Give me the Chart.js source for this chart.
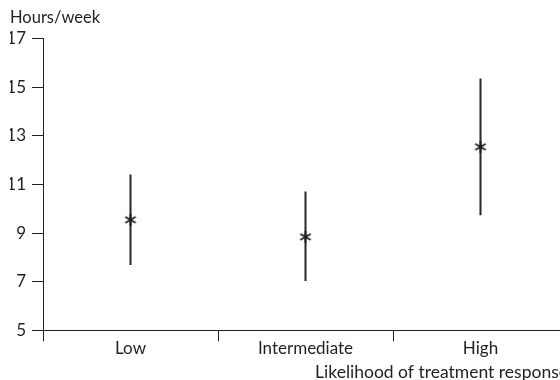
<!DOCTYPE html>
<html>
<head>
<meta charset="utf-8">
<script src="https://cdn.jsdelivr.net/npm/chart.js@4/dist/chart.umd.min.js"></script>
<style>
html,body{margin:0;padding:0;background:#fff;overflow:hidden;}
#wrap{width:580px;height:384px;}
</style>
</head>
<body>
<div id="wrap"><canvas id="c" width="580" height="384"></canvas></div>
<script>
const categories = ['Low', 'Intermediate', 'High'];
const means = [9.55, 8.85, 12.55];
const lower = [7.7, 7.05, 9.75];
const upper = [11.4, 10.7, 15.35];
const yTicks = [5, 7, 9, 11, 13, 15, 17];

const ink = '#231f20';
const fontFamily = 'Lato, "Open Sans", sans-serif';

// asterisk marker
const star = document.createElement('canvas');
star.width = 16; star.height = 16;
(function(){
  const g = star.getContext('2d');
  g.strokeStyle = ink; g.lineWidth = 1.9; g.lineCap = 'butt';
  const cx = 8, cy = 8, r = 6;
  [90, 30, 150].forEach(a => {
    const t = a * Math.PI / 180;
    g.beginPath();
    g.moveTo(cx - r * Math.cos(t), cy - r * Math.sin(t));
    g.lineTo(cx + r * Math.cos(t), cy + r * Math.sin(t));
    g.stroke();
  });
})();

new Chart(document.getElementById('c'), {
  type: 'bar',
  data: {
    labels: categories,
    datasets: [
      {
        type: 'bar',
        data: categories.map((_, i) => [lower[i], upper[i]]),
        backgroundColor: '#2a2a2a',
        borderWidth: 0,
        barThickness: 1.4,
        order: 2
      },
      {
        type: 'line',
        data: means,
        showLine: false,
        pointStyle: star,
        pointRadius: 7,
        order: 1
      }
    ]
  },
  options: {
    responsive: false,
    animation: false,
    layout: { padding: { left: 10, right: 12, top: 0, bottom: 1 } },
    plugins: {
      legend: { display: false },
      tooltip: { enabled: false },
      title: {
        display: true,
        text: 'Hours/week',
        align: 'start',
        color: ink,
        font: { family: fontFamily, size: 16.5, weight: 'normal' },
        padding: { top: 8, bottom: 10.9 }
      }
    },
    scales: {
      x: {
        offset: true,
        grid: { offset: true, drawOnChartArea: false, drawTicks: true, tickLength: 11, color: ink, lineWidth: 1 },
        border: { display: true, color: ink, width: 1 },
        ticks: { color: ink, font: { family: fontFamily, size: 17 }, padding: -3 },
        title: {
          display: true,
          text: 'Likelihood of treatment response',
          align: 'end',
          color: ink,
          font: { family: fontFamily, size: 17.5 },
          padding: { top: 6.2, bottom: 0 }
        }
      },
      y: {
        min: 5,
        max: 17,
        afterBuildTicks: (s) => { s.ticks = yTicks.map(v => ({ value: v })); },
        afterFit: (s) => { s.width = 33; },
        grid: { drawOnChartArea: false, drawTicks: true, tickLength: 11, color: ink, lineWidth: 1 },
        border: { display: true, color: ink, width: 1 },
        ticks: { color: ink, font: { family: fontFamily, size: 17 }, padding: 6 }
      }
    }
  }
});
</script>
</body>
</html>
